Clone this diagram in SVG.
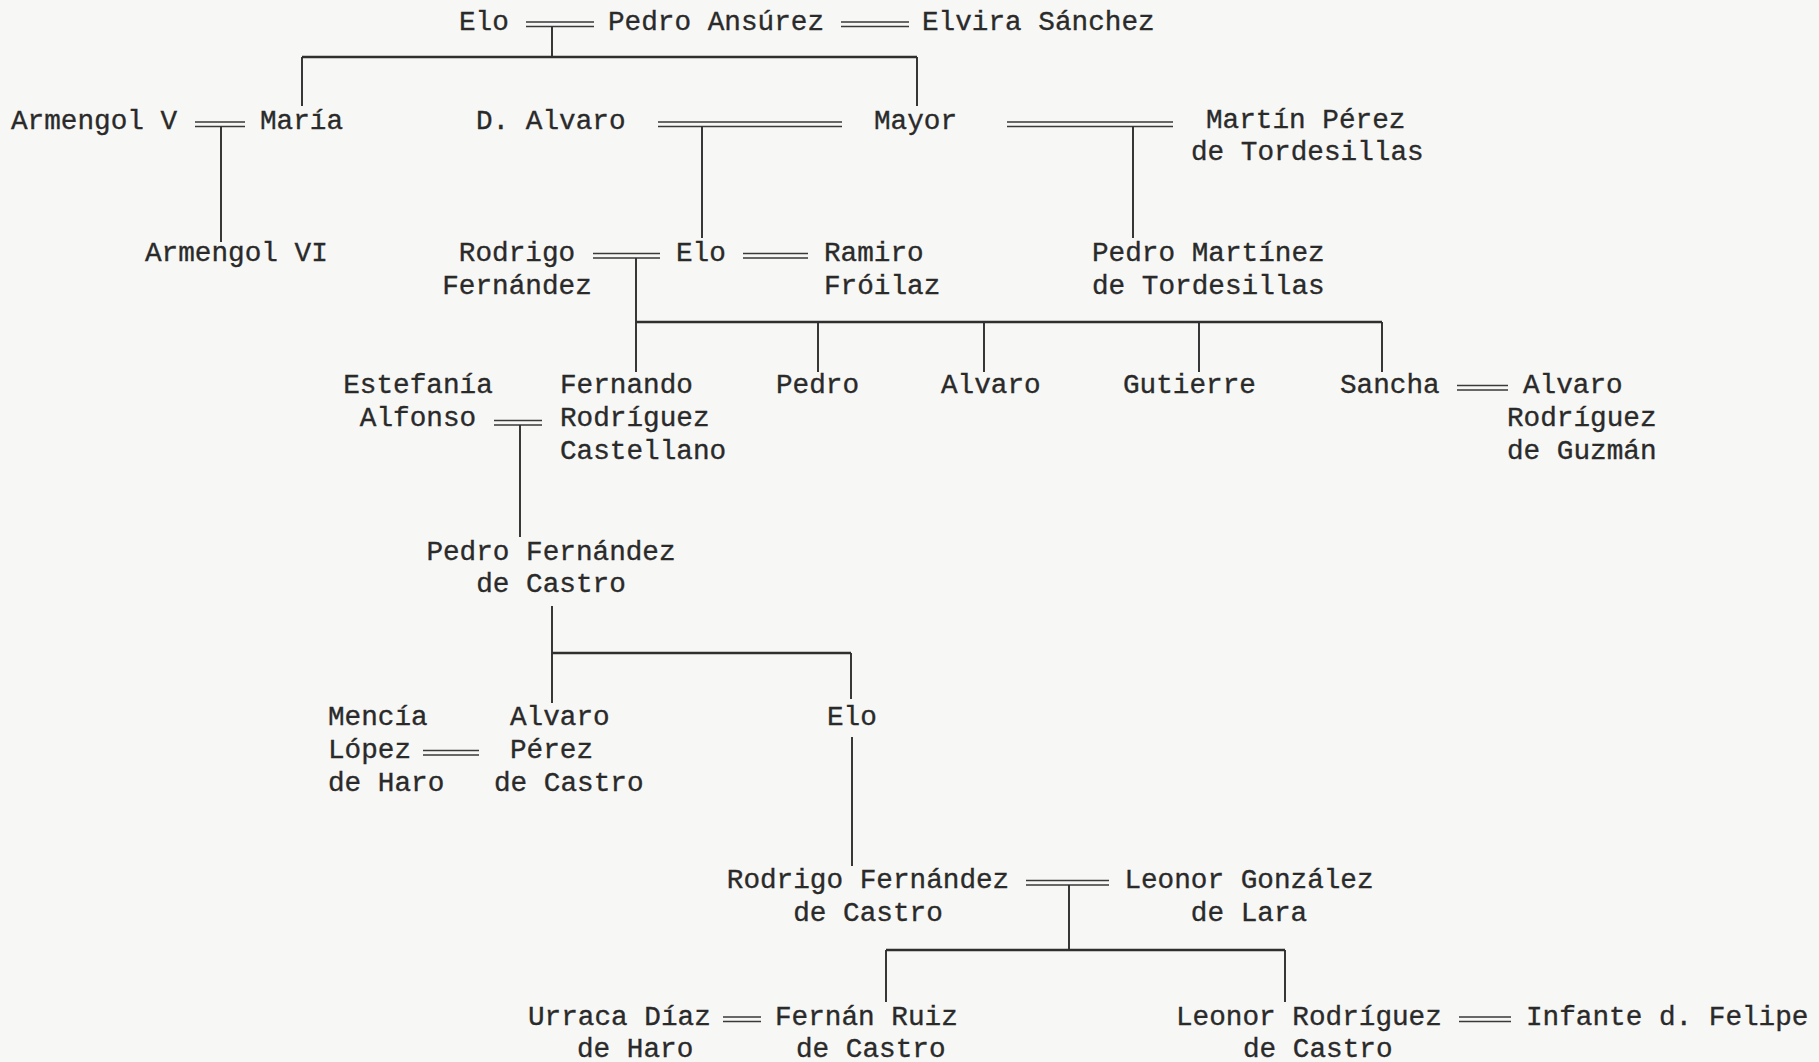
<svg xmlns="http://www.w3.org/2000/svg" width="1819" height="1062" viewBox="0 0 1819 1062">
<style>
text{font-family:"Liberation Mono","DejaVu Sans Mono",monospace;font-size:27.7px;fill:#2a2a2a;stroke:#2a2a2a;stroke-width:0.35}
.c{text-anchor:middle}
.l{stroke:#2f2f2f;stroke-width:1.9;fill:none}
.b{stroke:#2f2f2f;stroke-width:2.7;fill:none}
.m{stroke:#3a3a3a;stroke-width:1.7;fill:none}
</style>
<rect width="1819" height="1062" fill="#f7f7f5"/>
<g id="connectors">
<path class="m" d="M526 22H594M526 26.5H594M841 22H909M841 26.5H909"/>
<path class="m" d="M195 122H245M195 126.5H245M658 122H842M658 126.5H842M1007 122H1173M1007 126.5H1173"/>
<path class="m" d="M593 253.5H660M593 258H660M743 253.5H808M743 258H808"/>
<path class="m" d="M494 420.5H542M494 425H542M1457 385.5H1508M1457 390H1508"/>
<path class="m" d="M423 750.5H479M423 755H479"/>
<path class="m" d="M1026 880.5H1109M1026 885H1109"/>
<path class="m" d="M723 1017H761M723 1021.5H761M1459 1017H1511M1459 1021.5H1511"/>
<path class="l" d="M552 26.5V57M302 57V106M917 57V106"/>
<path class="b" d="M302 57H917"/>
<path class="l" d="M221 126.5V242M702 126.5V238M1133 126.5V238"/>
<path class="l" d="M636 258V372M818 322V372M984 322V372M1199 322V372M1382 322V372"/>
<path class="b" d="M636 322H1382"/>
<path class="l" d="M520 425V537"/>
<path class="l" d="M552 606V703M851 653V699"/>
<path class="b" d="M552 653H851"/>
<path class="l" d="M852 737V866"/>
<path class="l" d="M1069 885V950M886 950V1002M1285 950V1002"/>
<path class="b" d="M886 950H1285"/>
</g>
<g id="elo1"><text x="459" y="30">Elo</text></g>
<g id="pedro-ansurez"><text x="608" y="30">Pedro Ansúrez</text></g>
<g id="elvira-sanchez"><text x="922" y="30">Elvira Sánchez</text></g>
<g id="armengol-v"><text x="11" y="129">Armengol V</text></g>
<g id="maria"><text x="260" y="129">María</text></g>
<g id="d-alvaro"><text x="476" y="129">D. Alvaro</text></g>
<g id="mayor"><text x="874" y="129">Mayor</text></g>
<g id="martin-perez"><text x="1206" y="128">Martín Pérez</text><text x="1191" y="160">de Tordesillas</text></g>
<g id="armengol-vi"><text x="145" y="261">Armengol VI</text></g>
<g id="rodrigo-fernandez"><text class="c" x="517" y="261">Rodrigo</text><text class="c" x="517" y="294">Fernández</text></g>
<g id="elo2"><text x="676" y="261">Elo</text></g>
<g id="ramiro-froilaz"><text x="824" y="261">Ramiro</text><text x="824" y="294">Fróilaz</text></g>
<g id="pedro-martinez"><text x="1092" y="261">Pedro Martínez</text><text x="1092" y="294">de Tordesillas</text></g>
<g id="estefania-alfonso"><text class="c" x="418" y="393">Estefanía</text><text class="c" x="418" y="426">Alfonso</text></g>
<g id="fernando-rodriguez"><text x="560" y="393">Fernando</text><text x="560" y="426">Rodríguez</text><text x="560" y="459">Castellano</text></g>
<g id="pedro"><text x="776" y="393">Pedro</text></g>
<g id="alvaro"><text x="941" y="393">Alvaro</text></g>
<g id="gutierre"><text x="1123" y="393">Gutierre</text></g>
<g id="sancha"><text x="1340" y="393">Sancha</text></g>
<g id="alvaro-rodriguez-guzman"><text x="1523" y="393">Alvaro</text><text x="1507" y="426">Rodríguez</text><text x="1507" y="459">de Guzmán</text></g>
<g id="pedro-fernandez-castro"><text class="c" x="551" y="560">Pedro Fernández</text><text class="c" x="551" y="592">de Castro</text></g>
<g id="mencia-lopez"><text x="328" y="725">Mencía</text><text x="328" y="758">López</text><text x="328" y="791">de Haro</text></g>
<g id="alvaro-perez"><text x="510" y="725">Alvaro</text><text x="510" y="758">Pérez</text><text x="494" y="791">de Castro</text></g>
<g id="elo3"><text x="827" y="725">Elo</text></g>
<g id="rodrigo-fernandez-castro"><text class="c" x="868" y="888">Rodrigo Fernández</text><text class="c" x="868" y="921">de Castro</text></g>
<g id="leonor-gonzalez"><text class="c" x="1249" y="888">Leonor González</text><text class="c" x="1249" y="921">de Lara</text></g>
<g id="urraca-diaz"><text x="528" y="1025">Urraca Díaz</text><text x="577" y="1057">de Haro</text></g>
<g id="fernan-ruiz"><text x="775" y="1025">Fernán Ruiz</text><text x="796" y="1057">de Castro</text></g>
<g id="leonor-rodriguez"><text x="1176" y="1025">Leonor Rodríguez</text><text x="1243" y="1057">de Castro</text></g>
<g id="infante-felipe"><text x="1526" y="1025">Infante d. Felipe</text></g>
</svg>
